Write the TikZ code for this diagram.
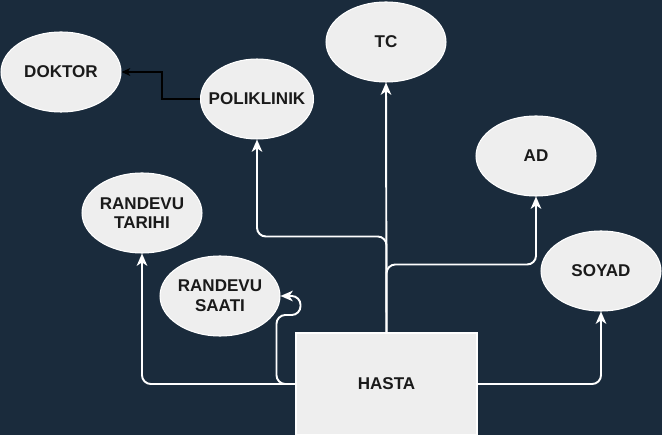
\documentclass[tikz,border=0pt]{standalone}
\usepackage{fontspec}
\setmainfont{Liberation Sans}
\usepackage{tikz}
\usetikzlibrary{positioning, shapes}
\usetikzlibrary{arrows.meta}

\definecolor{bgnavy}{HTML}{1A2B3C}
\definecolor{boxgray}{HTML}{EEEEEE}
\definecolor{txtdark}{HTML}{1A1A1A}

\begin{document}
\begin{tikzpicture}[x=0.02cm, y=-0.02cm,
  font=\fontsize{9.7}{11.2}\selectfont\bfseries,
  attr/.style={ellipse, draw=white, line width=0.6pt, fill=boxgray, text=txtdark,
    minimum width=2.4cm, minimum height=1.6cm, inner sep=0pt, align=center},
  entity/.style={rectangle, draw=white, line width=0.6pt, fill=boxgray, text=txtdark,
    minimum width=3.62cm, minimum height=2.04cm, inner sep=0pt},
  link/.style={draw=white, line width=1.1pt, rounded corners=5pt,
    -{Stealth[length=7pt, width=6pt, inset=2pt]}},
  blink/.style={draw=black, line width=0.6pt,
    -{Stealth[length=5pt, width=4.5pt, inset=1.5pt]}}]

% Background and size of the picture
\fill[bgnavy] (0, 0) rectangle (662, 435);
\useasboundingbox (0, 0) rectangle (662, 435);

% Entity
\node[entity] (hasta) at (386.5, 384) {HASTA};

% Attributes
\node[attr] (doktor) at (61, 72) {DOKTOR};
\node[attr, minimum width=2.26cm, inner xsep=-0.17cm] (poli) at (257, 99) {POLIKLINIK};
\node[attr] (tc) at (386, 42) {TC};
\node[attr] (ad) at (536, 156) {AD};
\node[attr] (soyad) at (601, 271) {SOYAD};
\node[attr] (tarihi) at (142, 213) {RANDEVU\\TARIHI};
\node[attr] (saati) at (220, 296) {RANDEVU\\SAATI};

% Links from the entity
\draw[link] (hasta.north) -- (tc.south);
\draw[link] (hasta.north) -- ++(0, -96) -| (poli.south);
\draw[link] (hasta.north) -- ++(0, -68) -| (ad.south);
\draw[link] (hasta.east) -| (soyad.south);
\draw[link] (hasta.west) -| (tarihi.south);
\draw[link] (hasta.west) -- ++(-19, 0) -- ++(0, -69) -- ++(24, 0) |- (saati.east);

% Poliklinik to doktor
\draw[blink, rounded corners=0pt] (poli.west) -- ++(-38, 0) |- (doktor.east);

\end{tikzpicture}
\end{document}
